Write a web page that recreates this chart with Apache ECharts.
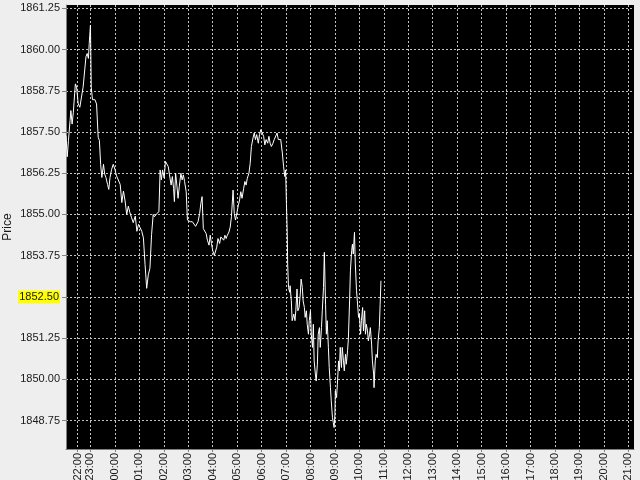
<!DOCTYPE html>
<html><head><meta charset="utf-8">
<script src="https://cdn.jsdelivr.net/npm/echarts@6/dist/echarts.min.js"></script>
<style>html,body{margin:0;padding:0;background:#eeeeee}#c{width:640px;height:480px}</style>
</head><body><div id="c"></div>
<script>
// minutes elapsed since 22:00 (session start)
const minutesFrom2200 = [
0,3,6,10,12,15,18,23,26,30,34,38,42,46,49,52,55,57,60,62,65,71,75,79,82,85,88,92,95,98,102,105,108,112,116,120,124,128,133,137,141,145,149,153,157,161,165,170,174,178,182,186,190,194,198,202,206,210,214,
217,223,228,231,234,237,241,244,247,251,254,258,261,264,266,269,272,275,278,282,285,288,291,295,298,301,305,310,314,318,321,324,328,331,334,337,341,344,347,351,354,357,360,364,367,370,373,377,380,383,387,390,393,396,400,403,406,410,413,416,
418,423,426,429,432,436,439,442,445,449,452,455,459,462,465,468,472,475,478,482,485,488,491,495,498,501,504,508,511,514,518,521,524,527,531,534,537,539,541,543,
544,546,549,550,553,555,559,562,564,567,569,572,575,577,580,582,585,587,590,592,595,597,600,602,605,607,609,612,614,617,619,622,624,627,629,632,634,637,639,641,644,646,649,651,654,656,658,660,661,664,666,669,671,673,676,678,681,683,686,688,691,693,696,698,701,703,705,708,710,713,715,718,720,723,725,728,730,733,735,737,740,742,745,747,750,752,755,756,759,761,764,766,769,771,773
];
const prices = [
1857.39,1856.75,1857.24,1857.85,1858.15,1857.74,1858.10,1858.96,1858.86,1858.35,1858.25,1858.56,1858.86,1858.91,1859.78,1859.88,1859.73,1860.18,1860.74,1858.86,1858.48,1858.48,1858.35,1857.34,1857.24,1856.52,1856.12,1856.52,1856.22,1856.12,1855.91,1855.76,1856.12,1856.37,1856.52,1856.37,1856.17,1856.12,1855.91,1855.36,1855.71,1855.41,1855.00,1855.25,1855.05,1854.90,1854.75,1854.95,1854.49,1854.70,1854.64,1854.49,1854.29,1853.48,1852.76,1853.17,1853.37,1854.39,1855.00,
1854.93,1855.03,1855.08,1856.35,1856.05,1856.35,1856.10,1856.61,1856.61,1856.45,1856.20,1855.89,1856.15,1855.79,1855.39,1856.25,1855.89,1855.49,1855.84,1856.25,1856.05,1856.20,1856.00,1855.69,1854.83,1854.88,1854.78,1854.78,1854.75,1854.64,1854.62,1854.78,1855.03,1855.34,1855.54,1854.57,1854.62,1854.42,1854.22,1854.07,1854.37,1854.12,1853.91,1853.76,1853.76,1854.01,1854.27,1854.12,1854.32,1854.37,1854.22,1854.37,1854.27,1854.37,1854.47,1854.62,1854.93,1855.74,1855.03,1854.83,
1854.83,1855.28,1855.44,1855.69,1855.49,1855.79,1856.00,1855.89,1856.10,1856.25,1856.55,1857.06,1857.32,1857.47,1857.27,1857.42,1857.16,1857.42,1857.57,1857.62,1857.37,1857.11,1857.27,1857.16,1857.37,1857.16,1857.06,1857.16,1857.27,1857.25,1857.47,1857.27,1857.25,1857.27,1856.86,1856.45,1856.15,1856.35,1855.34,1854.42,
1853.50,1852.79,1852.64,1852.84,1852.38,1851.78,1851.98,1851.78,1852.08,1852.74,1852.08,1852.18,1852.59,1853.04,1852.79,1852.38,1852.18,1851.88,1852.08,1851.67,1851.37,1851.78,1852.08,1851.37,1850.97,1851.67,1850.56,1850.16,1849.95,1850.46,1851.37,1851.57,1850.97,1851.57,1852.08,1852.79,1853.85,1852.28,1851.37,1851.78,1850.97,1850.36,1849.75,1849.35,1848.84,1848.69,1848.54,1848.94,1849.65,1849.45,1849.85,1850.56,1850.26,1850.97,1850.36,1850.97,1850.56,1850.26,1850.76,1850.46,1850.87,1851.22,1852.38,1853.29,1853.90,1854.10,1853.80,1854.46,1853.50,1852.69,1852.38,1851.88,1851.98,1851.37,1851.78,1852.18,1851.47,1852.08,1851.37,1851.67,1851.47,1851.17,1851.37,1851.57,1851.07,1850.56,1850.16,1849.75,1850.56,1850.76,1850.66,1851.17,1851.57,1852.28,1852.99
];
const xTickMinutes = [28.5,60,120,180,240,300,360,420,480,540,600,660,720,780,840,900,960,1020,1080,1140,1200,1260,1320,1380];
const xTickLabels = ['22:00','23:00','00:00','01:00','02:00','03:00','04:00','05:00','06:00','07:00','08:00','09:00','10:00','11:00','12:00','13:00','14:00','15:00','16:00','17:00','18:00','19:00','20:00','21:00'];
const yTicks = [1848.75,1850.00,1851.25,1852.50,1853.75,1855.00,1856.25,1857.50,1858.75,1860.00,1861.25];
const highlightPrice = 1852.50;
const xRange = [0, 1394];
const yRange = [1847.89, 1861.35];

const data = minutesFrom2200.map((m, i) => [m, prices[i]]);
const font = 'Liberation Sans, Arial, sans-serif';
const gridLine = { show: true, lineStyle: { color: '#c4c4c4', width: 1, type: [2, 2] } };

const chart = echarts.init(document.getElementById('c'), null, { renderer: 'canvas' });
chart.setOption({
  backgroundColor: '#eeeeee',
  animation: false,
  grid: { left: 66, right: 6, top: 5, bottom: 31, show: true, backgroundColor: '#000000', borderWidth: 0,
          containLabel: false, outerBoundsMode: 'none' },
  xAxis: {
    type: 'value', min: xRange[0], max: xRange[1],
    axisLine: { show: true, lineStyle: { color: '#808080', width: 1 } },
    axisTick: { show: true, length: 3, lineStyle: { color: '#808080' }, customValues: xTickMinutes },
    axisLabel: {
      customValues: xTickMinutes, rotate: 90, margin: 4,
      color: '#1a1a1a', fontFamily: font, fontSize: 11,
      formatter: v => { const i = xTickMinutes.indexOf(v); return i >= 0 ? xTickLabels[i] : ''; }
    },
    splitLine: gridLine
  },
  yAxis: {
    type: 'value', min: yRange[0], max: yRange[1],
    name: 'Price', nameLocation: 'middle', nameGap: 52, nameRotate: 90, nameMoveOverlap: false,
    nameTextStyle: { color: '#1a1a1a', fontFamily: font, fontSize: 12 },
    axisLine: { show: true, lineStyle: { color: '#808080', width: 1 } },
    axisTick: { show: true, length: 4, lineStyle: { color: '#808080' }, customValues: yTicks },
    axisLabel: {
      customValues: yTicks, margin: 6, color: '#1a1a1a', fontFamily: font, fontSize: 11,
      formatter: v => Math.abs(v - highlightPrice) < 1e-6 ? '{hl|' + v.toFixed(2) + '}' : v.toFixed(2),
      rich: { hl: { backgroundColor: '#ffff00', color: '#1a1a1a', fontFamily: font, fontSize: 11, padding: [1, 1, 1, 1] } }
    },
    splitLine: gridLine
  },
  series: [{
    type: 'line', data: data, showSymbol: false, symbol: 'none',
    lineStyle: { color: '#ffffff', width: 1 }, clip: true
  }]
});
</script></body></html>
